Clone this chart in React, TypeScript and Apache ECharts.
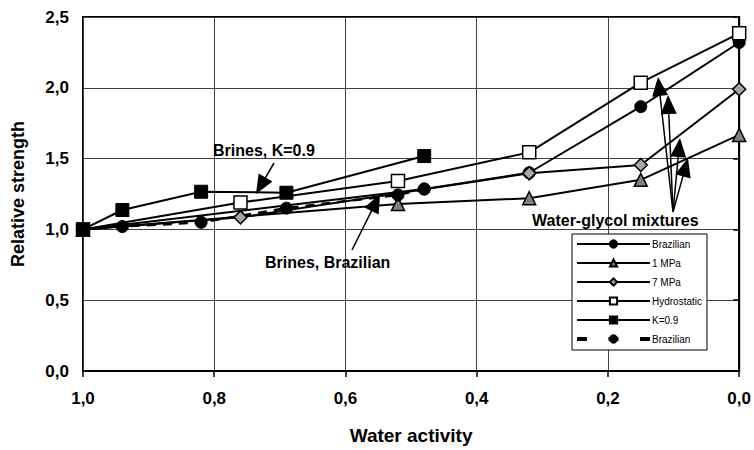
import React, { useEffect, useRef } from 'react';
import * as echarts from 'echarts';

// Water activity (x) and relative strength (y)
const brazilianAw = [1.0, 0.48, 0.32, 0.15, 0.0];
const brazilianVal = [1.0, 1.285, 1.40, 1.867, 2.32];
const mpa1Aw = [1.0, 0.52, 0.32, 0.15, 0.0];
const mpa1Val = [1.0, 1.18, 1.22, 1.35, 1.667];
const mpa7Aw = [1.0, 0.76, 0.32, 0.15, 0.0];
const mpa7Val = [1.0, 1.085, 1.396, 1.455, 1.99];
const hydroAw = [1.0, 0.76, 0.52, 0.32, 0.15, 0.0];
const hydroVal = [1.0, 1.19, 1.342, 1.544, 2.036, 2.385];
const k09Aw = [1.0, 0.94, 0.82, 0.69, 0.48];
const k09Val = [1.0, 1.137, 1.266, 1.259, 1.518];
const brinesBrazAw = [1.0, 0.94, 0.82, 0.69, 0.52, 0.48];
const brinesBrazVal = [1.0, 1.02, 1.05, 1.15, 1.243, 1.285];

const seriesNames = ['Brazilian', '1 MPa', '7 MPa', 'Hydrostatic', 'K=0.9', 'Brazilian (brines)'];

const FONT = 'Liberation Sans, Arial, sans-serif';

const pairs = (xs: number[], ys: number[]) => xs.map((x, i) => [x, ys[i]]);

function arrow(x1: number, y1: number, x2: number, y2: number, head = 19, half = 8) {
  const dx = x2 - x1;
  const dy = y2 - y1;
  const L = Math.hypot(dx, dy);
  const ux = dx / L;
  const uy = dy / L;
  const bx = x2 - ux * head;
  const by = y2 - uy * head;
  return [
    { type: 'line', z: 100, shape: { x1, y1, x2: bx + ux * 2, y2: by + uy * 2 }, style: { stroke: '#000', lineWidth: 1.5 } },
    {
      type: 'polygon',
      z: 100,
      shape: { points: [[x2, y2], [bx - uy * half, by + ux * half], [bx + uy * half, by - ux * half]] },
      style: { fill: '#000' },
    },
  ];
}

export default function App() {
  const ref = useRef<HTMLDivElement>(null);

  useEffect(() => {
    if (!ref.current) return;
    const chart = echarts.init(ref.current, undefined, { renderer: 'svg' });

    const lineBase = { color: '#000', width: 2 };
    const annText = (text: string, x: number, y: number) => ({
      type: 'text',
      z: 100,
      x,
      y,
      style: { text, fill: '#000', font: `bold 16px ${FONT}`, textVerticalAlign: 'middle', verticalAlign: 'middle' },
    });

    const option: any = {
      animation: false,
      backgroundColor: '#fff',
      grid: { left: 83, right: 14, top: 17, bottom: 79, show: true, borderColor: '#000', borderWidth: 2 },
      xAxis: {
        type: 'value',
        inverse: true,
        min: 0,
        max: 1,
        interval: 0.2,
        name: 'Water activity',
        nameLocation: 'middle',
        nameGap: 55,
        nameTextStyle: { fontFamily: FONT, fontWeight: 'bold', fontSize: 19, color: '#000' },
        axisLine: { show: true, lineStyle: { color: '#000', width: 2 } },
        axisTick: { show: true, length: 6, lineStyle: { color: '#000', width: 1.5 } },
        axisLabel: {
          margin: 19,
          fontFamily: FONT,
          fontWeight: 'bold',
          fontSize: 17,
          color: '#000',
          formatter: (v: number) => v.toFixed(1).replace('.', ','),
        },
        splitLine: { show: true, lineStyle: { color: '#404040', width: 1 } },
      },
      yAxis: {
        type: 'value',
        min: 0,
        max: 2.5,
        interval: 0.5,
        name: 'Relative strength',
        nameLocation: 'middle',
        nameGap: 56,
        nameTextStyle: { fontFamily: FONT, fontWeight: 'bold', fontSize: 18, color: '#000' },
        axisLine: { show: true, lineStyle: { color: '#000', width: 2 } },
        axisTick: { show: true, length: 6, lineStyle: { color: '#000', width: 1.5 } },
        axisLabel: {
          margin: 14,
          fontFamily: FONT,
          fontWeight: 'bold',
          fontSize: 17,
          color: '#000',
          formatter: (v: number) => v.toFixed(1).replace('.', ','),
        },
        splitLine: { show: true, lineStyle: { color: '#404040', width: 1 } },
      },
      legend: {
        orient: 'vertical',
        left: 572,
        top: 234,
        padding: [5, 5, 6, 3],
        itemGap: 9,
        itemWidth: 73,
        itemHeight: 9,
        borderColor: '#000',
        borderWidth: 1,
        backgroundColor: '#fff',
        textStyle: { fontFamily: FONT, fontSize: 10, color: '#000', padding: [0, 0, 0, -3] },
        formatter: (n: string) => (n === 'Brazilian (brines)' ? 'Brazilian' : n),
        data: [
          { name: seriesNames[0] },
          { name: seriesNames[1] },
          { name: seriesNames[2] },
          { name: seriesNames[3] },
          { name: seriesNames[4] },
          { name: seriesNames[5], lineStyle: { width: 4, type: [10, 21.5] } },
        ],
      },
      series: [
        {
          name: seriesNames[0],
          type: 'line',
          data: pairs(brazilianAw, brazilianVal),
          symbol: 'circle',
          symbolSize: 12,
          lineStyle: lineBase,
          itemStyle: { color: '#000', borderColor: '#000', borderWidth: 1 },
        },
        {
          name: seriesNames[1],
          type: 'line',
          data: pairs(mpa1Aw, mpa1Val),
          symbol: 'triangle',
          symbolSize: 13,
          lineStyle: lineBase,
          itemStyle: { color: '#808080', borderColor: '#000', borderWidth: 1.5 },
        },
        {
          name: seriesNames[2],
          type: 'line',
          data: pairs(mpa7Aw, mpa7Val),
          symbol: 'diamond',
          symbolSize: 13,
          lineStyle: lineBase,
          itemStyle: { color: '#a6a6a6', borderColor: '#000', borderWidth: 1.5 },
        },
        {
          name: seriesNames[3],
          type: 'line',
          data: pairs(hydroAw, hydroVal),
          symbol: 'rect',
          symbolSize: 13,
          lineStyle: lineBase,
          itemStyle: { color: '#fff', borderColor: '#000', borderWidth: 1.5 },
        },
        {
          name: seriesNames[4],
          type: 'line',
          data: pairs(k09Aw, k09Val),
          symbol: 'rect',
          symbolSize: 13,
          lineStyle: lineBase,
          itemStyle: { color: '#000', borderColor: '#000', borderWidth: 1 },
        },
        {
          name: seriesNames[5],
          type: 'line',
          data: pairs(brinesBrazAw, brinesBrazVal),
          symbol: 'circle',
          symbolSize: 12,
          lineStyle: { color: '#000', width: 2.5, type: [9, 7] },
          itemStyle: { color: '#000', borderColor: '#000', borderWidth: 1 },
        },
      ],
      graphic: [
        annText('Brines, K=0.9', 213, 150),
        annText('Brines, Brazilian', 265, 262),
        annText('Water-glycol mixtures', 532, 220),
        ...arrow(274, 163, 256, 194),
        ...arrow(352, 250, 380, 194),
        ...arrow(673, 212, 658, 77),
        ...arrow(673, 212, 668, 95),
        ...arrow(673, 212, 680, 138),
        ...arrow(673, 212, 688, 158),
      ],
    };

    chart.setOption(option);
    return () => chart.dispose();
  }, []);

  return <div ref={ref} style={{ position: 'absolute', left: 0, top: 0, width: 754, height: 450 }} />;
}
